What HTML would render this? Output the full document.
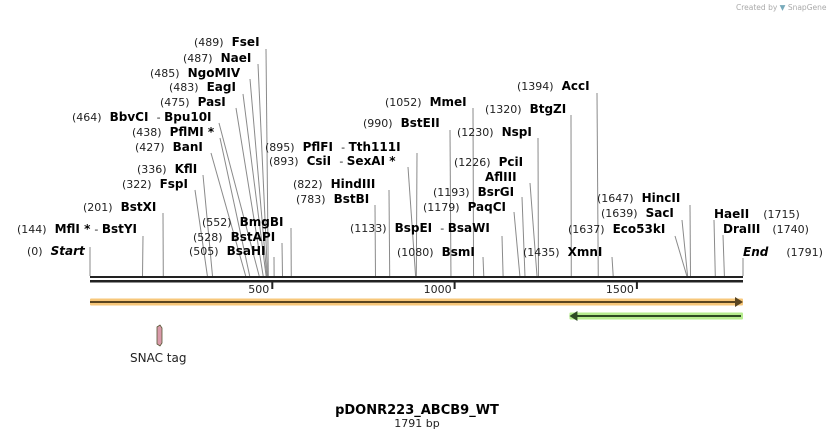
<!DOCTYPE html>
<html><head><meta charset="utf-8"><style>
html,body{margin:0;padding:0;background:#fff;}
svg{display:block;font-family:"DejaVu Sans","Liberation Sans",sans-serif;}
.num{font-size:11px;fill:#222;}
.nm{font-size:12px;font-weight:bold;fill:#000;}
</style></head><body>
<svg id="map" width="834" height="439" viewBox="0 0 834 439">
<text x="736" y="10" font-size="7.5" fill="#aaa">Created by <tspan fill="#7ab">▼</tspan> SnapGene</text>
<g id="leaders"></g>
<g id="labels"></g>
<g id="backbone"></g>
<g id="features"></g>
<text x="417" y="414" text-anchor="middle" font-size="13" font-weight="bold">pDONR223_ABCB9_WT</text>
<text x="417" y="427" text-anchor="middle" font-size="11" fill="#222">1791 bp</text>
</svg>
<script>
const seqLength = 1791;
const sites = [0,144,201,322,336,427,438,464,475,483,485,487,489,505,528,552,783,822,893,895,990,1052,1080,1133,1179,1193,1226,1226,1230,1320,1394,1435,1637,1639,1647,1715,1740,1791];
const enzymeNames = ["Start","MflI * - BstYI","BstXI","FspI","KflI","BanI","PflMI *","BbvCI - Bpu10I","PasI","EagI","NgoMIV","NaeI","FseI","BsaHI","BstAPI","BmgBI","BstBI","HindIII","CsiI - SexAI *","PflFI - Tth111I","BstEII","MmeI","BsmI","BspEI - BsaWI","PaqCI","BsrGI","AflIII","PciI","NspI","BtgZI","AccI","XmnI","Eco53kI","SacI","HincII","HaeII","DraIII","End"];
const tickValues = [500,1000,1500];
// label layout: [textX, baseline, leaderX, leaderY]
const layout = [[27,255,90,247],[17,233,143,236],[83,211,163,213],[122,188,195,190],[137,173,203,175],[135,151,211,153],[132,136,220,138],[72,121,219,123],[160,106,236,108],[169,91,243,94],[150,77,250,79],[183,62,258,64],[194,46,266,49],[189,255,274,257],[193,241,282,243],[202,226,291,228],[296,203,375,205],[293,188,389,190],[269,165,408,167],[265,151,417,153],[363,127,450,130],[385,106,473,108],[397,256,483,257],[350,232,502,236],[423,211,514,212],[433,196,522,197],[485,181,530,183],[454,166,null,null],[457,136,538,138],[485,113,571,115],[517,90,597,93],[523,256,612,257],[568,233,675,236],[601,217,682,220],[597,202,690,205],[714,218,714,220],[723,233,723,235],[743,256,743,258]];
const X0=90, X1=743, BY=276;
function xs(bp){return X0+(X1-X0)*bp/seqLength;}
const NS="http://www.w3.org/2000/svg";
function mk(tag,attrs,parent){const e=document.createElementNS(NS,tag);for(const k in attrs)e.setAttribute(k,attrs[k]);parent.appendChild(e);return e;}
const gL=document.getElementById('leaders'), gT=document.getElementById('labels'), gB=document.getElementById('backbone'), gF=document.getElementById('features');
sites.forEach((s,i)=>{
  const [tx,ty,lx,ly]=layout[i]; const name=enzymeNames[i];
  const slug=name.split(' ')[0].toLowerCase().replace(/[^a-z0-9]/g,'');
  if(lx!==null){
    const ln=mk('line',{x1:lx,y1:ly,x2:xs(s),y2:BY,stroke:'#8a8a8a','stroke-width':1},gL);
    
    
  }
  const t=mk('text',{x:tx,y:ty},gT);
  
  
  const after = (name==='HaeII'||name==='DraIII'||name==='End');
  const italic = (name==='Start'||name==='End');
  const noNum = (name==='AflIII'||name==='PciI'&&false);
  function addName(first){
    const parts=name.split(' - ');
    parts.forEach((p,j)=>{
      if(j>0){const d=mk('tspan',{class:'num',dx:4},t);d.textContent='- ';}
      let core=p, star='';
      if(p.endsWith(' *')){core=p.slice(0,-2);star=' *';}
      const a={class:'nm'}; if(first&&j===0){}else if(j===0)a.dx=8;
      if(italic)a['font-style']='italic';
      const n=mk('tspan',a,t);n.textContent=core+(j<parts.length-1?' ':'');
      if(star){const st=mk('tspan',{class:'nm'},t);st.textContent=star;}
    });
  }
  if(noNum){addName(true);}
  else if(after){addName(true);const n=mk('tspan',{class:'num',dx:name==='End'?18:(name==='HaeII'?14:12)},t);n.textContent='('+s+')';}
  else {const n=mk('tspan',{class:'num'},t);n.textContent='('+s+')';addName(false);}
});
let bb=mk('rect',{x:X0,y:BY,width:X1-X0,height:2,fill:'#222'},gB);


bb=mk('rect',{x:X0,y:BY+4,width:X1-X0,height:2.5,fill:'#222'},gB);


tickValues.forEach(v=>{
  const tk=mk('rect',{x:xs(v)-1,y:BY+5,width:2,height:8,fill:'#222'},gB);
  
  
  const tl=mk('text',{x:xs(v)-3,y:BY+17,'text-anchor':'end','font-size':11,fill:'#222'},gB);
  
  
  tl.textContent=v;
});
// features
const oStart=xs(0), oEnd=xs(1791), gStart=xs(1315), gEnd=xs(1791);
let f=mk('rect',{x:oStart,y:298.5,width:oEnd-oStart,height:7,fill:'#f7c77a',rx:1},gF);


f=mk('line',{x1:oStart,y1:302,x2:oEnd-6,y2:302,stroke:'#5a4520','stroke-width':2},gF);


f=mk('polygon',{points:`${oEnd-8},297 ${oEnd},302 ${oEnd-8},307`,fill:'#5a4520'},gF);


f=mk('rect',{x:gStart,y:312.5,width:gEnd-gStart,height:7,fill:'#b6ec8e',rx:1},gF);


f=mk('line',{x1:gStart+6,y1:316,x2:gEnd-2,y2:316,stroke:'#2d4a22','stroke-width':2},gF);


f=mk('polygon',{points:`${gStart+8},311 ${gStart},316 ${gStart+8},321`,fill:'#2d4a22'},gF);


f=mk('polygon',{points:'157,327 160,325 162,328 162,343 160,346 157,344',fill:'#d99aaa',stroke:'#553',"stroke-width":0.8},gF);


f=mk('text',{x:130,y:362,'font-size':12,fill:'#222'},gF);


f.textContent='SNAC tag';
</script>
</body></html>
